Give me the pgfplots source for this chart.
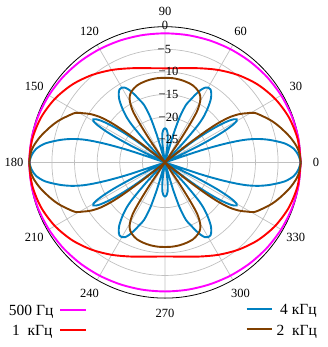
\documentclass[border=0pt]{standalone}
\usepackage{fontspec}
\setmainfont{Liberation Serif}
\usepackage{pgfplots}
\pgfplotsset{compat=1.18}
\usepgfplotslibrary{polar}
\usepackage{pgfplotstable}

\definecolor{cM}{RGB}{255,0,255}
\definecolor{cR}{RGB}{255,0,0}
\definecolor{cB}{RGB}{0,128,192}
\definecolor{cBr}{RGB}{128,64,0}
\definecolor{cG}{RGB}{192,192,192}

% 500 Hz, dB vs angle (full turn)
\pgfplotstableread{
a db
0 0
10 -0.04
20 -0.17
30 -0.36
40 -0.59
50 -0.85
60 -1.09
70 -1.29
80 -1.42
90 -1.47
100 -1.42
110 -1.29
120 -1.09
130 -0.85
140 -0.59
150 -0.36
160 -0.17
170 -0.04
180 0
190 -0.04
200 -0.17
210 -0.36
220 -0.59
230 -0.85
240 -1.09
250 -1.29
260 -1.42
270 -1.47
280 -1.42
290 -1.29
300 -1.09
310 -0.85
320 -0.59
330 -0.36
340 -0.17
350 -0.04
360 0
}\tabM

% 1 kHz
\pgfplotstableread{
a db
0 0
10 -0.22
20 -0.86
30 -1.89
40 -3.23
50 -4.80
60 -6.41
70 -7.85
80 -8.85
90 -9.2
100 -8.85
110 -7.85
120 -6.41
130 -4.80
140 -3.23
150 -1.89
160 -0.86
170 -0.22
180 0
190 -0.22
200 -0.86
210 -1.89
220 -3.23
230 -4.80
240 -6.41
250 -7.85
260 -8.85
270 -9.2
280 -8.85
290 -7.85
300 -6.41
310 -4.80
320 -3.23
330 -1.89
340 -0.86
350 -0.22
360 0
}\tabR

% 2 kHz, first quadrant (dB, -30 = centre)
\pgfplotstableread{
a db
0 0
4 -0.25
7 -0.7
11.5 -1.8
17 -3.4
21 -4.6
25 -6.0
29 -7.4
31 -8.9
33 -10.4
35 -12.6
36.5 -15.5
37.5 -19
38.5 -24
39.2 -30
nan nan
55 -30
56 -24
57 -19.5
58 -16.5
60 -14.5
62 -13.4
65 -12.6
70 -11.9
75 -11.6
80 -11.4
85 -11.3
90 -11.3
}\tabBr

% 4 kHz, first quadrant
\pgfplotstableread{
a db
0 0
3 -0.45
6 -1.35
9 -3.2
12 -6.2
14 -8.6
15.5 -11
16.5 -13.5
17.5 -17
18.5 -22
19.3 -30
nan nan
25 -30
26 -22.5
27 -17.8
28 -14.8
29 -12.8
30 -11.7
31 -11.5
32 -12.0
33 -13.0
34 -14.6
35 -16.8
36 -19.6
37 -23.2
38.5 -30
nan nan
46 -30
47 -24
48.5 -19
50 -16.5
52 -14.5
54 -12.8
56 -11.7
58 -11.0
60 -10.9
62 -11.3
64 -12.3
66 -13.7
68 -15.2
70 -16.5
72 -19.5
73.5 -24
74.5 -30
nan nan
80 -30
81.5 -27
83 -25
85 -23.5
87.5 -22.7
90 -22.4
}\tabB

\begin{document}
\begin{tikzpicture}[x=1pt,y=1pt]
\useasboundingbox (0pt,0pt) rectangle (327pt,-347pt);
\begin{polaraxis}[
  at={(165pt,-162.4pt)}, anchor=center,
  scale only axis, width=271.4pt, height=271.4pt,
  xmin=0, xmax=360, ymin=0, ymax=30,
  xtick={0,30,...,330}, ytick={5,10,15,20,25},
  xticklabel={\relax}, yticklabel={\relax},
  major tick length=0pt,
  grid=major,
  major grid style={draw=cG, line width=0.7pt},
  axis line style={black, line width=0.8pt},
  y axis line style={draw=none},
  clip=false,
  unbounded coords=jump,
  every axis plot/.append style={line width=1.9pt, smooth, tension=0.5},
]
\addplot[cM] table[x=a, y expr=\thisrow{db}+30] {\tabM};
\addplot[cR] table[x=a, y expr=\thisrow{db}+30] {\tabR};

\addplot[cB] table[x=a, y expr=\thisrow{db}+30] {\tabB};
\addplot[cB] table[x expr=180-\thisrow{a}, y expr=\thisrow{db}+30] {\tabB};
\addplot[cB] table[x expr=180+\thisrow{a}, y expr=\thisrow{db}+30] {\tabB};
\addplot[cB] table[x expr=360-\thisrow{a}, y expr=\thisrow{db}+30] {\tabB};

\addplot[cBr] table[x=a, y expr=\thisrow{db}+30] {\tabBr};
\addplot[cBr] table[x expr=180-\thisrow{a}, y expr=\thisrow{db}+30] {\tabBr};
\addplot[cBr] table[x expr=180+\thisrow{a}, y expr=\thisrow{db}+30] {\tabBr};
\addplot[cBr] table[x expr=360-\thisrow{a}, y expr=\thisrow{db}+30] {\tabBr};
\end{polaraxis}

% angle labels
\foreach \a in {0,30,...,330}
  \node[font=\fontsize{12.5}{14}\selectfont, inner sep=0pt] at ([shift={(\a:151pt)}]165pt,-162.4pt) {\a};

% radial labels
\begin{scope}[every node/.style={font=\fontsize{12.5}{14}\selectfont, inner sep=0pt, anchor=west}]
\node at (161.7pt,-25pt) {0};
\node at (157.5pt,-49.3pt) {−5};
\node at (158.5pt,-71.5pt) {−10};
\node at (158.5pt,-94.3pt) {−15};
\node at (158.5pt,-117pt) {−20};
\node at (158.5pt,-139.6pt) {−25};
\end{scope}

% legend
\begin{scope}[every node/.style={font=\fontsize{15.5}{18}\selectfont, inner sep=0pt}]
\node[anchor=base east] at (53.5pt,-315pt) {500 Гц};
\draw[cM, line width=1.9pt] (60pt,-310pt) -- (86pt,-310pt);
\node[anchor=base east] at (52.5pt,-335pt) {1\ \ кГц};
\draw[cR, line width=1.9pt] (60pt,-330pt) -- (86pt,-330pt);
\draw[cB, line width=1.9pt] (246.5pt,-309.3pt) -- (271.5pt,-309.3pt);
\node[anchor=base west] at (280pt,-314.5pt) {4 кГц};
\draw[cBr, line width=1.9pt] (246.5pt,-329.3pt) -- (271.5pt,-329.3pt);
\node[anchor=base west] at (276.5pt,-335pt) {2\ \ кГц};
\end{scope}
\end{tikzpicture}
\end{document}
